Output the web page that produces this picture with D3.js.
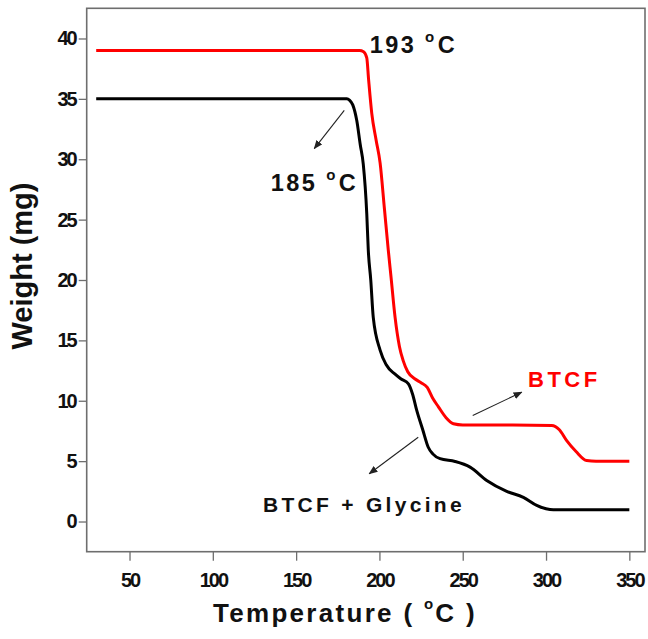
<!DOCTYPE html>
<html>
<head>
<meta charset="utf-8">
<script src="https://cdn.jsdelivr.net/npm/d3@7"></script>
<style>
  body { margin: 0; background: #fff; }
  svg { display: block; font-family: "Liberation Sans", Arial, sans-serif; }
</style>
</head>
<body>
<div class="tga-chart"></div>
<script>
// series (temperature in C, weight in mg)
const btcfTemp = [30, 100, 150, 188, 190.5, 192.4, 193.5, 195.4, 198, 200.4, 203, 205.3, 207, 209.4, 212, 214.3, 217, 221.4, 225, 228.7, 232, 235.4, 240, 244.4, 250, 280, 303.4, 308, 312.4, 318, 324.4, 330, 350]
const btcfWeight = [39, 39, 39, 39, 38.9, 38.4, 36.6, 33.8, 31.6, 29.7, 25.9, 22.5, 20.2, 16.9, 14.5, 13.3, 12.4, 11.8, 11.5, 11.1, 10.2, 9.5, 8.6, 8.1, 8.0, 8.0, 7.95, 7.6, 6.7, 5.8, 5.05, 5.0, 5.0]

const glyTemp = [30, 100, 150, 180.4, 182, 184, 186.4, 188.5, 190.3, 192.4, 193.3, 194.8, 196.3, 200.4, 204, 209.4, 213, 217.4, 220, 222.4, 226, 229.3, 232, 236.4, 245.4, 254.4, 264.4, 276.4, 286.4, 294.4, 300, 304.4, 350]
const glyWeight = [35, 35, 35, 35, 34.9, 34.5, 33.2, 31.2, 29.6, 25.5, 22.5, 20.0, 16.9, 14.2, 13.0, 12.2, 11.8, 11.4, 10.5, 9.2, 7.6, 6.15, 5.6, 5.2, 4.97, 4.5, 3.4, 2.5, 2.0, 1.33, 1.05, 0.97, 0.97]

const xTicks = [50, 100, 150, 200, 250, 300, 350]
const yTicks = [0, 5, 10, 15, 20, 25, 30, 35, 40]

const init = () => {
  const width = 648
  const height = 639
  const margin = { top: 8.3, right: 3, bottom: 87.3, left: 86.7 }

  const svg = d3.select('.tga-chart')
    .append('svg')
    .attr('width', width)
    .attr('height', height)

  // scales
  const xScale = d3.scaleLinear()
    .domain([24.3, 359.4])
    .range([margin.left, width - margin.right])

  const yScale = d3.scaleLinear()
    .domain([-2.5, 42.5])
    .range([height - margin.bottom, margin.top])

  const frameColor = '#6e6e6e'

  // axes
  const xAxis = d3.axisBottom(xScale)
    .tickValues(xTicks)
    .tickSize(9)
    .tickPadding(12)
    .tickSizeOuter(0)

  const yAxis = d3.axisLeft(yScale)
    .tickValues(yTicks)
    .tickSize(8)
    .tickPadding(3)
    .tickSizeOuter(0)

  const gx = svg.append('g')
    .attr('transform', `translate(0,${height - margin.bottom})`)
    .call(xAxis)

  const gy = svg.append('g')
    .attr('transform', `translate(${margin.left},0)`)
    .call(yAxis)

  ;[gx, gy].forEach(g => {
    g.select('.domain').remove()
    g.selectAll('.tick line').attr('stroke', frameColor).attr('stroke-width', 1.3)
    g.selectAll('.tick text')
      .attr('fill', '#111')
      .style('font-size', '20px')
      .style('font-weight', 'bold')
      .style('letter-spacing', '-2px')
      .style('font-family', '"Liberation Sans", Arial, sans-serif')
  })

  // frame
  svg.append('rect')
    .attr('x', margin.left)
    .attr('y', margin.top)
    .attr('width', width - margin.right - margin.left)
    .attr('height', height - margin.bottom - margin.top)
    .attr('fill', 'none')
    .attr('stroke', frameColor)
    .attr('stroke-width', 1.6)

  // curves
  const line = d3.line()
    .x(d => xScale(d[0]))
    .y(d => yScale(d[1]))
    .curve(d3.curveMonotoneX)

  const series = [
    { temp: btcfTemp, weight: btcfWeight, color: '#ff0000' },
    { temp: glyTemp, weight: glyWeight, color: '#000000' }
  ]

  svg.selectAll('.curve')
    .data(series)
    .join('path')
    .attr('class', 'curve')
    .attr('d', d => line(d.temp.map((t, i) => [t, d.weight[i]])))
    .attr('fill', 'none')
    .attr('stroke', d => d.color)
    .attr('stroke-width', 3)
    .attr('stroke-linejoin', 'round')

  // arrows
  svg.append('defs').append('marker')
    .attr('id', 'head')
    .attr('viewBox', '0 0 10 10')
    .attr('refX', 9)
    .attr('refY', 5)
    .attr('markerWidth', 9)
    .attr('markerHeight', 9)
    .attr('markerUnits', 'userSpaceOnUse')
    .attr('orient', 'auto')
    .append('path')
    .attr('d', 'M0,1 L10,5 L0,9 Z')
    .attr('fill', '#222')

  const arrows = [
    [178.9, 34.05, 160.9, 30.88],
    [256.0, 8.78, 285.4, 10.71],
    [223.3, 6.98, 193.9, 3.95]
  ]

  svg.selectAll('.arrow')
    .data(arrows)
    .join('line')
    .attr('class', 'arrow')
    .attr('x1', d => xScale(d[0]))
    .attr('y1', d => yScale(d[1]))
    .attr('x2', d => xScale(d[2]))
    .attr('y2', d => yScale(d[3]))
    .attr('stroke', '#222')
    .attr('stroke-width', 1.1)
    .attr('marker-end', 'url(#head)')

  // onset labels with superscript o
  const onset = [
    { text: '193 ', x: 194.2, y: 38.77 },
    { text: '185 ', x: 134.8, y: 27.4 }
  ]
  onset.forEach(o => {
    const t = svg.append('text')
      .attr('x', xScale(o.x))
      .attr('y', yScale(o.y))
      .attr('fill', '#111')
      .style('font-size', '23.5px')
      .style('font-weight', 'bold')
      .style('letter-spacing', '2.4px')
    t.append('tspan').text(o.text)
    t.append('tspan').text('o').attr('dy', -11).style('font-size', '15px').style('font-weight', 'bold')
    t.append('tspan').text('C').attr('dy', 11).attr('dx', 1)
  })

  // series labels
  svg.append('text')
    .attr('x', xScale(289.2))
    .attr('y', yScale(11.13))
    .attr('fill', '#ff0000')
    .style('font-size', '22px')
    .style('letter-spacing', '3.5px')
    .style('font-weight', '600')
    .text('BTCF')

  svg.append('text')
    .attr('x', xScale(130.1))
    .attr('y', yScale(0.75))
    .attr('fill', '#111')
    .style('font-size', '21px')
    .style('letter-spacing', '3.3px')
    .style('font-weight', '600')
    .text('BTCF + Glycine')

  // axis titles
  const xTitle = svg.append('text')
    .attr('x', 213)
    .attr('y', 622)
    .attr('fill', '#111')
    .style('font-size', '26px')
    .style('font-weight', 'bold')
    .style('letter-spacing', '2.3px')
  xTitle.append('tspan').text('Temperature ( ')
  xTitle.append('tspan').text('o').attr('dy', -13).style('font-size', '15px')
  xTitle.append('tspan').text('C )').attr('dy', 13)

  svg.append('text')
    .attr('transform', `translate(32,${(margin.top + height - margin.bottom) / 2 - 14}) rotate(-90)`)
    .attr('text-anchor', 'middle')
    .attr('fill', '#111')
    .style('font-size', '29px')
    .style('font-weight', 'bold')
    .text('Weight (mg)')
}

init()
</script>
</body>
</html>
